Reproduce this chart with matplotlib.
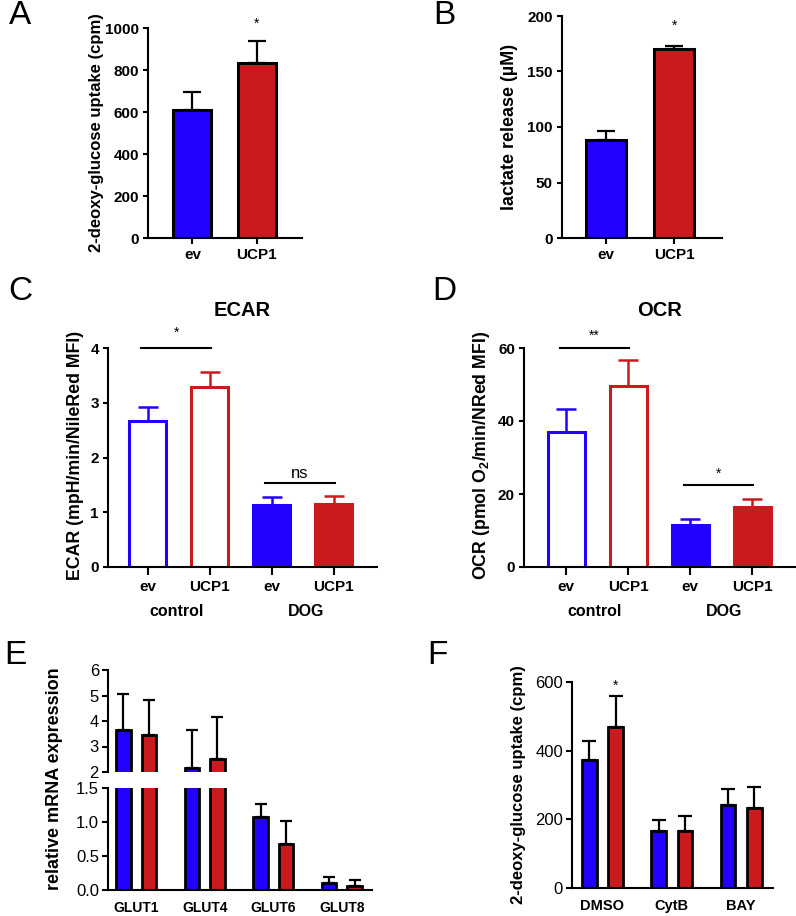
import numpy as np
import matplotlib as mpl
import matplotlib.pyplot as plt

# ---------------------------------------------------------------------------------------------------------------------
# DATA (errors are the upper SEM arm only)
# ---------------------------------------------------------------------------------------------------------------------
cell_lines = ['ev', 'UCP1']

# A: 2-deoxy-glucose uptake (cpm)
a_means = [611, 834]
a_errs = [86, 102]

# B: lactate release (uM)
b_means = [88, 170]
b_errs = [8.3, 2.8]

# C / D: Seahorse ECAR and OCR, control vs DOG
cd_ticks = ['ev', 'UCP1', 'ev', 'UCP1']
cd_groups = ['control', 'DOG']
c_means = [2.67, 3.28, 1.13, 1.15]
c_errs = [0.25, 0.28, 0.14, 0.15]
d_means = [36.9, 49.6, 11.6, 16.5]
d_errs = [6.4, 7.0, 1.5, 2.0]

# E: relative mRNA expression of GLUT transporters (broken axis)
e_genes = ['GLUT1', 'GLUT4', 'GLUT6', 'GLUT8']
e_ev_means = [3.64, 2.16, 1.08, 0.11]
e_ev_errs = [1.41, 1.48, 0.18, 0.08]
e_ucp1_means = [3.47, 2.51, 0.68, 0.06]
e_ucp1_errs = [1.35, 1.63, 0.34, 0.08]

# F: 2-deoxy-glucose uptake with inhibitors
f_treatments = ['DMSO', 'CytB', 'BAY']
f_ev_means = [374, 165, 242]
f_ev_errs = [55, 34, 47]
f_ucp1_means = [469, 165, 233]
f_ucp1_errs = [91, 44, 61]

BLUE = '#2200FF'
RED = '#CB1A1E'

# ---------------------------------------------------------------------------------------------------------------------
# FIGURE SET-UP
# ---------------------------------------------------------------------------------------------------------------------
plt.rcParams['font.family'] = 'Liberation Sans'
mpl.rcParams['mathtext.fontset'] = 'custom'
mpl.rcParams['mathtext.rm'] = 'Liberation Sans:bold'
mpl.rcParams['mathtext.default'] = 'rm'

W, H = 796, 916
fig = plt.figure(figsize=(W / 100, H / 100), dpi=100)


def px_axes(left, top, right, bottom):
    # axes placed by pixel box of the plotting area
    ax = fig.add_axes([left / W, 1 - bottom / H, (right - left) / W, (bottom - top) / H])
    ax.spines['top'].set_visible(False)
    ax.spines['right'].set_visible(False)
    ax.spines['left'].set_linewidth(1.5)
    ax.spines['bottom'].set_linewidth(1.5)
    return ax


def px_text(x, y, s, **kw):
    return fig.text(x / W, 1 - y / H, s, **kw)


def bold_ticks(ax, size=11):
    ax.tick_params(axis='y', width=1.5, length=3.5, pad=3, labelsize=size)
    ax.tick_params(axis='x', width=1.5, length=4.5, pad=3, labelsize=size)
    for lab in ax.get_xticklabels() + ax.get_yticklabels():
        lab.set_fontweight('bold')


upper_only = lambda errs: [np.zeros(len(errs)), errs]

# ---------------------------------------------------------------------------------------------------------------------
# PANEL A
# ---------------------------------------------------------------------------------------------------------------------
ax = px_axes(148, 28, 302, 238)
x = np.arange(len(cell_lines))
ax.bar(x, a_means, width=0.59, color=[BLUE, RED], edgecolor='black', linewidth=2.2)
ax.errorbar(x, a_means, yerr=upper_only(a_errs), fmt='none', ecolor='black', elinewidth=1.6,
            capsize=6.5, capthick=1.6)
ax.set_xlim(-0.69, 1.70)
ax.set_ylim(0, 1000)
ax.set_yticks(np.arange(0, 1001, 200))
ax.set_xticks(x, labels=cell_lines)
bold_ticks(ax)
ax.text(1, 1019, '*', ha='center', va='center', fontsize=10)
px_text(96, 133, '2-deoxy-glucose uptake (cpm)', rotation=90, ha='center', va='center',
        fontsize=12, fontweight='bold')

# ---------------------------------------------------------------------------------------------------------------------
# PANEL B
# ---------------------------------------------------------------------------------------------------------------------
ax = px_axes(562, 16, 722, 238)
ax.bar(x, b_means, width=0.59, color=[BLUE, RED], edgecolor='black', linewidth=2.2)
ax.errorbar(x, b_means, yerr=upper_only(b_errs), fmt='none', ecolor='black', elinewidth=1.6,
            capsize=6.5, capthick=1.6)
ax.set_xlim(-0.65, 1.70)
ax.set_ylim(0, 200)
ax.set_yticks(np.arange(0, 201, 50))
ax.set_xticks(x, labels=cell_lines)
bold_ticks(ax)
ax.text(1, 191, '*', ha='center', va='center', fontsize=10)
px_text(510, 127, 'lactate release (µM)', rotation=90, ha='center', va='center',
        fontsize=13, fontweight='bold')

# ---------------------------------------------------------------------------------------------------------------------
# PANELS C AND D (open bars = control, filled bars = DOG)
# ---------------------------------------------------------------------------------------------------------------------
cd_colors = [BLUE, RED, BLUE, RED]
cd_faces = ['white', 'white', BLUE, RED]
x4 = np.arange(len(cd_ticks))

for box, means, errs, top, step, title, ylabel, ylab_x, xlim, sigs, grp_x in [
        ((108, 348, 377, 567), c_means, c_errs, 4, 1, 'ECAR', 'ECAR (mpH/min/NileRed MFI)', 75,
         (-0.64, 3.70), [(0, 4.0, 4.27, '*', 10), (2, 1.53, 1.71, 'ns', 12)], (177, 306)),
        ((524, 348, 795, 567), d_means, d_errs, 60, 20, 'OCR', r'OCR (pmol O$_2$/min/NRed MFI)', 482,
         (-0.68, 3.69), [(0, 60, 63.3, '**', 10), (2, 22.6, 25.6, '*', 10)], (595, 724))]:
    ax = px_axes(*box)
    ax.bar(x4, means, width=0.6, color=cd_faces, edgecolor=cd_colors, linewidth=2.2)
    for xi, m, e, c in zip(x4, means, errs, cd_colors):
        ax.errorbar(xi, m, yerr=[[0], [e]], fmt='none', ecolor=c, elinewidth=1.8, capsize=7, capthick=1.8)
    ax.set_xlim(*xlim)
    ax.set_ylim(0, top)
    ax.set_yticks(np.arange(0, top + 0.1, step))
    ax.set_xticks(x4, labels=cd_ticks)
    bold_ticks(ax)
    ax.tick_params(axis='x', length=5.5, pad=4)
    ax.set_title(title, fontsize=14.5, fontweight='bold', pad=23)
    for x0, yline, ystar, s, fs in sigs:
        ax.plot([x0 - 0.1, x0 + 1.02], [yline, yline], color='black', linewidth=1.5, clip_on=False)
        ax.text(x0 + 0.46, ystar, s, ha='center', va='center', fontsize=fs)
    left, top_px, right, bottom = box
    px_text(ylab_x, (top_px + bottom) / 2 - 2, ylabel, rotation=90, ha='center', va='center',
            fontsize=12.8, fontweight='bold')
    for gx, g in zip(grp_x, cd_groups):
        px_text(gx, 612, g, ha='center', va='center', fontsize=11.5, fontweight='bold')

# ---------------------------------------------------------------------------------------------------------------------
# PANEL E (broken y axis)
# ---------------------------------------------------------------------------------------------------------------------
xg = np.arange(len(e_genes))
off = 0.185
ax_up = px_axes(108, 670, 372, 772)
ax_lo = px_axes(108, 788, 372, 890)
for a in (ax_up, ax_lo):
    a.bar(xg - off, e_ev_means, width=0.21, color=BLUE, edgecolor='black', linewidth=2.0)
    a.bar(xg + off, e_ucp1_means, width=0.21, color=RED, edgecolor='black', linewidth=2.0)
    a.errorbar(xg - off, e_ev_means, yerr=upper_only(e_ev_errs), fmt='none', ecolor='black',
               elinewidth=1.6, capsize=4.3, capthick=1.6)
    a.errorbar(xg + off, e_ucp1_means, yerr=upper_only(e_ucp1_errs), fmt='none', ecolor='black',
               elinewidth=1.6, capsize=4.3, capthick=1.6)
    a.set_xlim(-0.41, 3.44)
    a.tick_params(axis='y', width=1.5, length=4.5, pad=2, labelsize=12)
ax_up.set_ylim(2, 6)
ax_up.set_yticks([2, 3, 4, 5, 6])
ax_up.spines['bottom'].set_visible(False)
ax_up.set_xticks([])
ax_lo.set_ylim(0, 1.5)
ax_lo.set_yticks([0, 0.5, 1.0, 1.5])
ax_lo.yaxis.set_major_formatter(mpl.ticker.FormatStrFormatter('%.1f'))
ax_lo.set_xticks(xg, labels=e_genes)
ax_lo.tick_params(axis='x', length=0, pad=8, labelsize=10)
for lab in ax_lo.get_xticklabels():
    lab.set_fontweight('bold')
px_text(55, 779, 'relative mRNA expression', rotation=90, ha='center', va='center',
        fontsize=13, fontweight='bold')

# ---------------------------------------------------------------------------------------------------------------------
# PANEL F
# ---------------------------------------------------------------------------------------------------------------------
ax = px_axes(572, 682, 773, 888)
xf = np.arange(len(f_treatments))
off = 0.19
ax.bar(xf - off, f_ev_means, width=0.21, color=BLUE, edgecolor='black', linewidth=2.0)
ax.bar(xf + off, f_ucp1_means, width=0.21, color=RED, edgecolor='black', linewidth=2.0)
ax.errorbar(xf - off, f_ev_means, yerr=upper_only(f_ev_errs), fmt='none', ecolor='black',
            elinewidth=1.6, capsize=4.7, capthick=1.6)
ax.errorbar(xf + off, f_ucp1_means, yerr=upper_only(f_ucp1_errs), fmt='none', ecolor='black',
            elinewidth=1.6, capsize=4.7, capthick=1.6)
ax.set_xlim(-0.44, 2.46)
ax.set_ylim(0, 600)
ax.set_yticks([0, 200, 400, 600])
ax.tick_params(axis='y', width=1.5, length=4.5, pad=2, labelsize=12)
ax.set_xticks(xf, labels=f_treatments)
ax.tick_params(axis='x', length=0, pad=8, labelsize=10.5)
for lab in ax.get_xticklabels():
    lab.set_fontweight('bold')
ax.text(off, 588, '*', ha='center', va='center', fontsize=10)
px_text(518, 785, '2-deoxy-glucose uptake (cpm)', rotation=90, ha='center', va='center',
        fontsize=12, fontweight='bold')

# ---------------------------------------------------------------------------------------------------------------------
# PANEL LETTERS
# ---------------------------------------------------------------------------------------------------------------------
for lx, ly, letter in [(20, 15, 'A'), (444, 16, 'B'), (20, 291, 'C'), (444, 291, 'D'),
                       (15, 656, 'E'), (437, 656, 'F')]:
    px_text(lx, ly, letter, ha='center', va='center', fontsize=24)

plt.savefig('out.png', dpi=100)
